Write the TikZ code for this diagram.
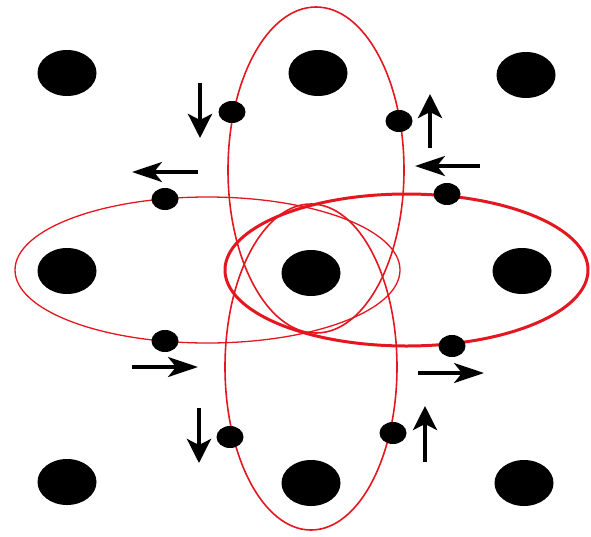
\documentclass[tikz,border=0pt]{standalone}
\usetikzlibrary{arrows.meta,shapes.geometric}
\definecolor{ringred}{RGB}{228,22,32}
\tikzset{
  bigdot/.style={ellipse,fill=black,inner sep=0pt,minimum width=59pt,minimum height=46pt},
  smalldot/.style={ellipse,fill=black,inner sep=0pt,minimum width=27pt,minimum height=22pt},
  ring/.style={draw=ringred,line width=1.6pt},
  thickring/.style={draw=ringred,line width=3pt},
  varrow/.style={-{Stealth[length=24pt,width=24pt,inset=6pt]},line width=3.8pt},
  harrow/.style={-{Stealth[length=30pt,width=20pt,inset=8pt]},line width=3.4pt}
}
\begin{document}
\begin{tikzpicture}[x=1pt,y=-1pt]
\useasboundingbox (0,0) rectangle (591,536);
% rings
\draw[ring] (316,170) ellipse [x radius=88,y radius=163];
\draw[ring] (311,367) ellipse [x radius=86,y radius=163];
\draw[ring,line width=1.3pt] (207.5,270) ellipse [x radius=192.5,y radius=73];
\draw[thickring] (406.5,270) ellipse [x radius=181.5,y radius=76];
% lattice sites
\node[bigdot] (tl) at (67,73) {};
\node[bigdot] (tm) at (318,73) {};
\node[bigdot] (tr) at (526,75) {};
\node[bigdot] (ml) at (67,271) {};
\node[bigdot] (mm) at (311,273) {};
\node[bigdot] (mr) at (522,271) {};
\node[bigdot] (bl) at (67,482) {};
\node[bigdot] (bm) at (311,483) {};
\node[bigdot] (br) at (524,483) {};
% small dots on rings
\node[smalldot] (s1) at (232,112) {};
\node[smalldot] (s2) at (399,121) {};
\node[smalldot] (s3) at (165,199) {};
\node[smalldot] (s4) at (447,194) {};
\node[smalldot] (s5) at (165,341) {};
\node[smalldot] (s6) at (452,346) {};
\node[smalldot] (s7) at (230,437) {};
\node[smalldot] (s8) at (393,433) {};
% arrows
\coordinate (a1s) at (200,83);  \coordinate (a1e) at (200,138);
\coordinate (a2s) at (198,172); \coordinate (a2e) at (132,172);
\coordinate (a3s) at (430,148); \coordinate (a3e) at (430,94);
\coordinate (a4s) at (480,166); \coordinate (a4e) at (415,166);
\coordinate (a5s) at (132,367); \coordinate (a5e) at (198,367);
\coordinate (a6s) at (418,373); \coordinate (a6e) at (484,373);
\coordinate (a7s) at (199,408); \coordinate (a7e) at (199,463);
\coordinate (a8s) at (425,462); \coordinate (a8e) at (425,406);
\draw[varrow] (a1s) -- (a1e);
\draw[harrow] (a2s) -- (a2e);
\draw[varrow] (a3s) -- (a3e);
\draw[harrow] (a4s) -- (a4e);
\draw[harrow] (a5s) -- (a5e);
\draw[harrow] (a6s) -- (a6e);
\draw[varrow] (a7s) -- (a7e);
\draw[varrow] (a8s) -- (a8e);
\end{tikzpicture}
\end{document}
